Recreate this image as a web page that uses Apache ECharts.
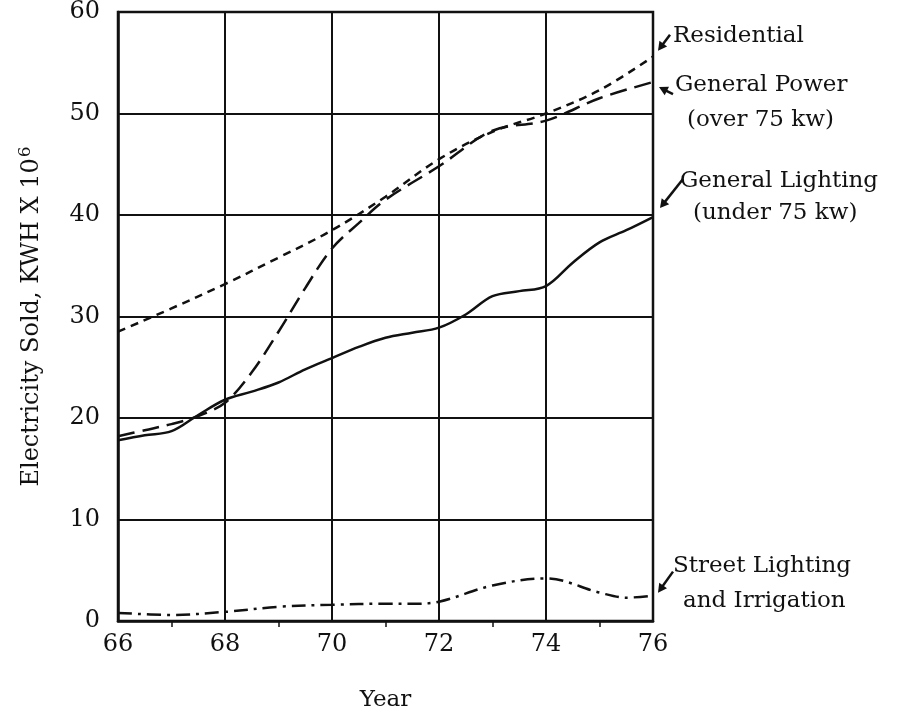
<!DOCTYPE html>
<html>
<head>
<meta charset="utf-8">
<script src="https://cdn.jsdelivr.net/npm/echarts@6/dist/echarts.min.js"></script>
<style>
  html, body { margin: 0; padding: 0; background: #fff; }
  #chart { width: 902px; height: 721px; }
</style>
</head>
<body>
<div id="chart"></div>
<script>
// year, value pairs
const residential = [[66, 28.5], [67, 30.8], [68, 33.2], [69, 35.8], [70, 38.5], [71, 41.8], [72, 45.5], [73, 48.2], [74, 50.0], [75, 52.3], [76, 55.6]]
const generalPower = [[66, 18.2], [66.5, 18.8], [67, 19.4], [67.5, 20.2], [68, 21.5], [68.5, 24.5], [69, 28.5], [69.5, 32.8], [70, 36.7], [70.5, 39.2], [71, 41.5], [72, 44.8], [73, 48.3], [74, 49.3], [75, 51.5], [76, 53.1]]
const generalLighting = [[66, 17.8], [66.5, 18.3], [67, 18.7], [67.5, 20.3], [68, 21.8], [68.5, 22.6], [69, 23.5], [69.5, 24.8], [70, 25.9], [70.5, 27.0], [71, 27.9], [71.5, 28.4], [72, 28.9], [72.5, 30.2], [73, 32.0], [73.5, 32.5], [74, 33.0], [74.5, 35.3], [75, 37.3], [75.5, 38.5], [76, 39.8]]
const streetLighting = [[66, 0.8], [67, 0.6], [68, 0.9], [69, 1.4], [70, 1.6], [71, 1.7], [71.5, 1.7], [72, 1.9], [73, 3.5], [74, 4.2], [75, 2.8], [75.5, 2.3], [76, 2.5]]
const xTicks = { min: 66, max: 76, step: 2 }
const yTicks = { min: 0, max: 60, step: 10 }

const font = "'DejaVu Serif', 'Liberation Serif', serif"
const ink = "#111"

const chartDom = document.getElementById("chart")
const myChart = echarts.init(chartDom, null, { renderer: "canvas" })

function lineSeries(name, data, type) {
  return {
    name: name,
    type: "line",
    data: data,
    smooth: 0.35,
    showSymbol: false,
    lineStyle: { color: ink, width: 2.5, type: type },
  }
}

const option = {
  backgroundColor: "#fff",
  animation: false,
  grid: {
    left: 118,
    right: 249,
    top: 12,
    bottom: 100,
    show: true,
    borderColor: ink,
    borderWidth: 2.5,
  },
  xAxis: {
    type: "value",
    min: xTicks.min,
    max: xTicks.max,
    interval: xTicks.step,
    name: "Year",
    nameLocation: "middle",
    nameGap: 68,
    nameTextStyle: { fontFamily: font, fontSize: 23, color: ink },
    axisLine: { show: true, lineStyle: { color: ink, width: 2.5 } },
    axisTick: { show: false },
    minorTick: { show: true, splitNumber: 2, length: 6, lineStyle: { color: ink, width: 1.5 } },
    axisLabel: { fontFamily: font, fontSize: 24, color: ink, margin: 12 },
    splitLine: { show: true, lineStyle: { color: ink, width: 2 } },
  },
  yAxis: {
    type: "value",
    min: yTicks.min,
    max: yTicks.max,
    interval: yTicks.step,
    name: "{a|Electricity Sold, KWH X 10}{s|6}",
    nameLocation: "middle",
    nameGap: 72,
    nameTextStyle: {
      rich: {
        a: { fontFamily: font, fontSize: 24, color: ink },
        s: { fontFamily: font, fontSize: 17, color: ink, verticalAlign: "top", padding: [0, 0, 12, 1] },
      },
    },
    axisLine: { show: true, lineStyle: { color: ink, width: 2.5 } },
    axisTick: { show: false },
    axisLabel: { fontFamily: font, fontSize: 24, color: ink, margin: 18 },
    splitLine: { show: true, lineStyle: { color: ink, width: 2 } },
  },
  series: [
    lineSeries("Residential", residential, [8, 6]),
    lineSeries("General Power", generalPower, [17, 8]),
    lineSeries("General Lighting", generalLighting, "solid"),
    lineSeries("Street Lighting", streetLighting, [14, 6, 3, 6]),
  ],
}
myChart.setOption(option)

// labels with arrows, anchored on the end of each line
function endPx(data) {
  return myChart.convertToPixel({ gridIndex: 0 }, data[data.length - 1])
}
function arrow(from, to) {
  const ang = Math.atan2(to[1] - from[1], to[0] - from[0])
  const L = 10, W = 0.5
  return [
    {
      type: "line",
      shape: { x1: from[0], y1: from[1], x2: to[0] - Math.cos(ang) * 5, y2: to[1] - Math.sin(ang) * 5 },
      style: { stroke: ink, lineWidth: 2.5 },
    },
    {
      type: "polygon",
      shape: {
        points: [
          to,
          [to[0] - L * Math.cos(ang - W), to[1] - L * Math.sin(ang - W)],
          [to[0] - L * Math.cos(ang + W), to[1] - L * Math.sin(ang + W)],
        ],
      },
      style: { fill: ink },
    },
  ]
}
function label(x, y, text, align) {
  return {
    type: "text",
    x: x,
    y: y,
    style: { text: text, fontFamily: font, fontSize: 23, fill: ink, textAlign: align || "left", textVerticalAlign: "middle" },
  }
}

const pR = endPx(residential)
const pP = endPx(generalPower)
const pL = endPx(generalLighting)
const pS = endPx(streetLighting)

const elements = []
  .concat(arrow([pR[0] + 17, pR[1] - 22], [pR[0] + 5, pR[1] - 6]))
  .concat(arrow([pP[0] + 20, pP[1] + 12], [pP[0] + 6, pP[1] + 5]))
  .concat(arrow([pL[0] + 30, pL[1] - 38], [pL[0] + 7, pL[1] - 9]))
  .concat(arrow([pS[0] + 20, pS[1] - 24], [pS[0] + 5, pS[1] - 3]))
  .concat([
    label(pR[0] + 20, pR[1] - 21, "Residential"),
    label(pP[0] + 22, pP[1] + 3, "General Power"),
    label(pP[0] + 34, pP[1] + 38, "(over 75 kw)"),
    label(pL[0] + 27, pL[1] - 36, "General Lighting"),
    label(pL[0] + 40, pL[1] - 4, "(under 75 kw)"),
    label(pS[0] + 20, pS[1] - 30, "Street Lighting"),
    label(pS[0] + 30, pS[1] + 5, "and Irrigation"),
  ])

myChart.setOption({ graphic: { elements: elements } })
</script>
</body>
</html>
